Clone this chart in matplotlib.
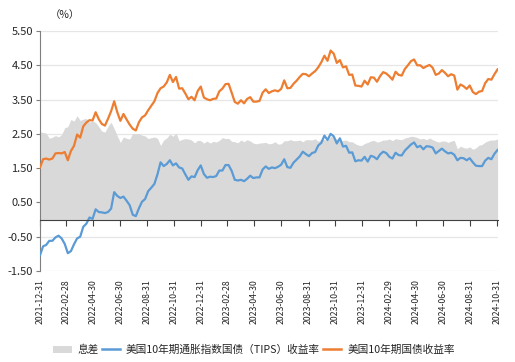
import matplotlib
matplotlib.use("Agg")
from matplotlib import pyplot as plt
from matplotlib.patches import Patch
from matplotlib.lines import Line2D
import matplotlib.dates as mdates
import numpy as np
import pandas as pd

plt.rcParams['font.family'] = ['Noto Sans CJK SC', 'DejaVu Sans']

####  dati: valori settimanali  ####
# 美国10年期国债收益率
nom_2022 = [1.52, 1.76, 1.78, 1.75, 1.78, 1.93, 1.94, 1.93, 1.97, 1.73, 2.00, 2.15, 2.48,
            2.39, 2.72, 2.83, 2.90, 2.89, 3.13, 2.93, 2.79, 2.74, 2.94, 3.16, 3.45, 3.13,
            2.88, 3.08, 2.92, 2.77, 2.65, 2.60, 2.84, 2.98, 3.04, 3.19, 3.32, 3.45, 3.69,
            3.83, 3.88, 4.00, 4.22, 4.01, 4.16, 3.82, 3.83, 3.68, 3.51, 3.58, 3.48, 3.75, 3.88]
nom_2023 = [3.56, 3.51, 3.48, 3.52, 3.53, 3.74, 3.82, 3.95, 3.96, 3.70, 3.43, 3.38, 3.48,
            3.39, 3.52, 3.57, 3.44, 3.44, 3.46, 3.70, 3.80, 3.69, 3.74, 3.77, 3.74, 3.81,
            4.06, 3.83, 3.84, 3.96, 4.05, 4.16, 4.25, 4.24, 4.18, 4.26, 4.33, 4.44, 4.59,
            4.78, 4.63, 4.93, 4.84, 4.57, 4.65, 4.44, 4.47, 4.22, 4.23, 3.91, 3.90, 3.88]
nom_2024 = [4.05, 3.94, 4.15, 4.14, 4.02, 4.18, 4.30, 4.26, 4.18, 4.08, 4.31, 4.22, 4.20,
            4.39, 4.50, 4.62, 4.67, 4.50, 4.50, 4.42, 4.47, 4.51, 4.43, 4.22, 4.26, 4.36,
            4.28, 4.18, 4.24, 4.20, 3.79, 3.94, 3.89, 3.81, 3.91, 3.72, 3.66, 3.73, 3.75,
            3.98, 4.10, 4.08, 4.24, 4.38]

# 美国10年期通胀指数国债（TIPS）收益率
tips_2022 = [-1.04, -0.78, -0.74, -0.62, -0.62, -0.52, -0.47, -0.55, -0.71, -0.98, -0.92,
             -0.72, -0.55, -0.50, -0.21, -0.12, 0.06, 0.02, 0.30, 0.22, 0.21, 0.19, 0.22,
             0.32, 0.80, 0.69, 0.63, 0.67, 0.55, 0.42, 0.14, 0.10, 0.33, 0.52, 0.60, 0.83,
             0.93, 1.04, 1.32, 1.67, 1.56, 1.62, 1.73, 1.58, 1.64, 1.52, 1.49, 1.32, 1.16,
             1.26, 1.24, 1.44, 1.58]
tips_2023 = [1.33, 1.22, 1.25, 1.24, 1.27, 1.43, 1.43, 1.59, 1.59, 1.42, 1.16, 1.14, 1.16,
             1.12, 1.19, 1.28, 1.21, 1.23, 1.23, 1.46, 1.55, 1.48, 1.52, 1.50, 1.54, 1.60,
             1.76, 1.53, 1.51, 1.66, 1.75, 1.84, 1.98, 1.91, 1.85, 1.94, 1.97, 2.16, 2.24,
             2.45, 2.32, 2.50, 2.43, 2.22, 2.37, 2.13, 2.15, 1.95, 1.96, 1.70, 1.73, 1.72]
tips_2024 = [1.83, 1.69, 1.86, 1.83, 1.76, 1.90, 1.98, 1.94, 1.83, 1.78, 1.95, 1.88, 1.87,
             2.01, 2.10, 2.19, 2.25, 2.11, 2.15, 2.05, 2.14, 2.13, 2.10, 1.93, 2.00, 2.07,
             1.99, 1.93, 1.95, 1.89, 1.73, 1.80, 1.79, 1.73, 1.79, 1.67, 1.57, 1.56, 1.56,
             1.72, 1.80, 1.76, 1.92, 2.03]

tick_dates = ['2021-12-31', '2022-02-28', '2022-04-30', '2022-06-30', '2022-08-31',
              '2022-10-31', '2022-12-31', '2023-02-28', '2023-04-30', '2023-06-30',
              '2023-08-31', '2023-10-31', '2023-12-31', '2024-02-29', '2024-04-30',
              '2024-06-30', '2024-08-31', '2024-10-31']
y_ticks = [-1.5, -0.5, 0.5, 1.5, 2.5, 3.5, 4.5, 5.5]
####	####	####	####

nominale = np.array(nom_2022 + nom_2023 + nom_2024)
tips = np.array(tips_2022 + tips_2023 + tips_2024)
date = pd.date_range('2021-12-31', periods=len(nominale), freq='7D')
x = mdates.date2num(date.to_pydatetime())
spread = nominale - tips
xt = mdates.date2num(pd.to_datetime(tick_dates).to_pydatetime())

fig1 = plt.figure(figsize=(5.15, 3.62), dpi=100)
f1 = fig1.add_axes([40/515, 1-271/362, 458/515, 240/362])

f1.set_axisbelow(True)
f1.grid(True, axis='y', color='#e6e6e6', lw=0.9)
f1.fill_between(x, spread, 0, color='#d9d9d9', lw=0, zorder=1)
f1.plot(x, tips, color='#5b9bd5', lw=1.6, zorder=3)
f1.plot(x, nominale, color='#ed7d31', lw=1.6, zorder=3)

f1.set_ylim(-1.5, 5.5)
f1.set_xlim(xt[0], mdates.date2num(pd.Timestamp('2024-11-02')))
f1.set_yticks(y_ticks)
f1.set_yticklabels(['%.2f' % v for v in y_ticks])

for s in ['top', 'right']:
    f1.spines[s].set_visible(False)
f1.spines['left'].set_color('#7f7f7f')
f1.spines['bottom'].set_position(('data', 0))
f1.spines['bottom'].set_color('#404040')
f1.spines['bottom'].set_zorder(4)

f1.set_xticks(xt)
f1.tick_params(axis='x', labelbottom=False, direction='out', length=4, color='#404040')
f1.tick_params(axis='y', length=3, color='#7f7f7f', labelsize=8, labelcolor='#262626', pad=2)

# etichette date in basso
sec = f1.secondary_xaxis('bottom')
sec.set_xticks(xt)
sec.set_xticklabels(tick_dates, rotation=90, fontsize=6.3, color='#262626')
sec.spines['bottom'].set_visible(False)
sec.tick_params(length=0, pad=6)

fig1.text(50/515, 1-15/362, '（%）', fontsize=7.5, color='#262626', va='center', ha='left')

handles = [Patch(facecolor='#d9d9d9', edgecolor='none'),
           Line2D([], [], color='#5b9bd5', lw=1.8),
           Line2D([], [], color='#ed7d31', lw=1.8)]
labels = ['息差', '美国10年期通胀指数国债（TIPS）收益率', '美国10年期国债收益率']
fig1.legend(handles, labels, loc='center', bbox_to_anchor=(254/515, 12/362), ncol=3,
            frameon=False, fontsize=7.7, handlelength=1.7, handletextpad=0.55,
            columnspacing=0.3, labelcolor='#262626')

fig1.savefig('out.png', dpi=100)
